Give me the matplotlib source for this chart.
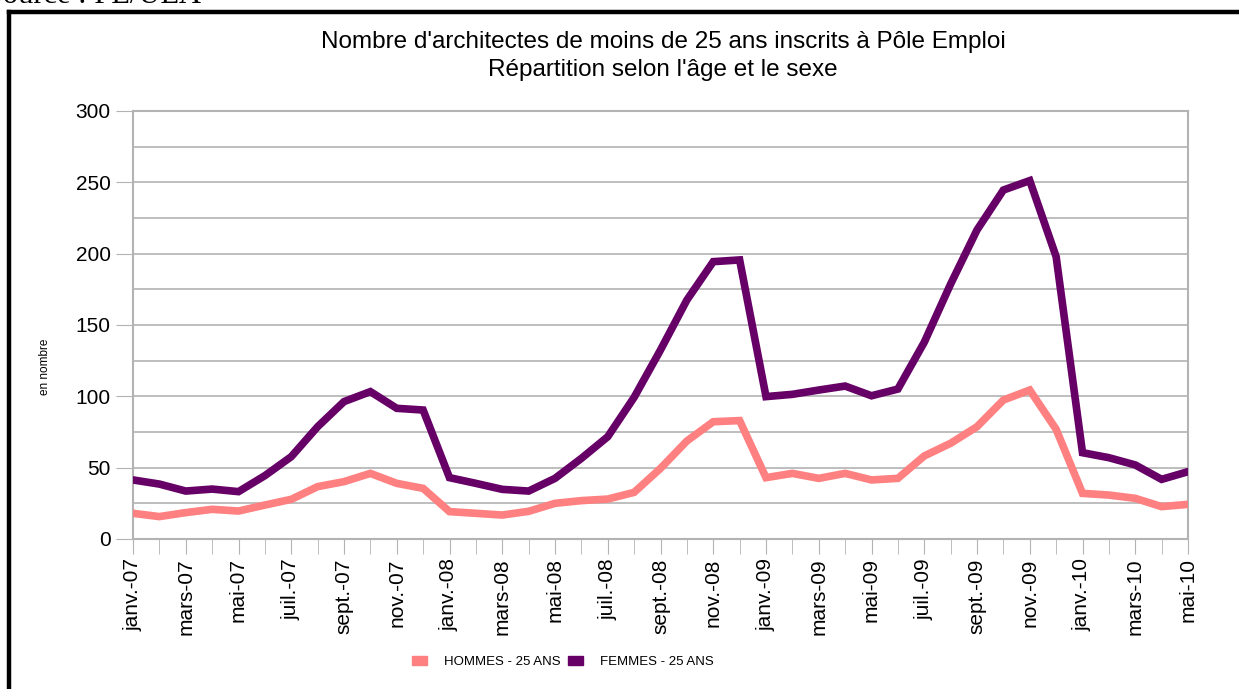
"""Architectes de moins de 25 ans inscrits a Pole Emploi, par sexe."""

import matplotlib
matplotlib.use("Agg")
import matplotlib.pyplot as plt
from matplotlib.patches import Patch
from matplotlib.ticker import MultipleLocator

plt.rcParams["font.family"] = ["Liberation Sans", "DejaVu Sans"]

W, H = 1239, 689

month_names = ["janv.", "févr.", "mars", "avr.", "mai", "juin",
               "juil.", "août", "sept.", "oct.", "nov.", "déc."]
years = ["07", "08", "09", "10"]
months = [f"{m}-{y}" for y in years for m in month_names][:41]

hommes = [18, 15.7, 18.5, 20.8, 19.6, 23.8, 27.8, 36.7, 40.2, 46, 39, 35.5,
          19.2, 18, 16.8, 19.4, 25, 26.9, 28, 32.7, 49.5, 68.7, 82.2, 83,
          43, 46, 42.5, 46, 41.4, 42.5, 58.2, 67.1, 78.7, 97.4, 104.4, 76.9,
          32, 30.8, 28.5, 22.7, 24.3]
femmes = [41.4, 38.5, 33.6, 35, 33.2, 44.4, 57.7, 78.7, 96.3, 103.3, 91.6, 90.4,
          43, 39, 34.8, 33.6, 42.5, 56.5, 71.7, 99.3, 132.5, 167.5, 194.4, 195.6,
          99.8, 101.4, 104.4, 107.2, 100.4, 105.1, 137.9, 178.7, 216.6, 244.6,
          251.2, 197.9, 60.5, 57, 51.9, 41.8, 47.2]

c_hommes = "#ff8080"
c_femmes = "#660066"
grid_c = "#b3b3b3"

fig = plt.figure(figsize=(W / 100, H / 100), dpi=100)

# frame around the chart (top and left edges visible)
fig.add_artist(plt.Line2D([9 / W, 1.0], [1 - 12 / H, 1 - 12 / H],
                          color="black", lw=3.2, transform=fig.transFigure))
fig.add_artist(plt.Line2D([9 / W, 9 / W], [0, 1 - 12 / H],
                          color="black", lw=3.2, transform=fig.transFigure))
# the source line sits above the frame and is cut by the top edge, as in the original
fig.text(-14 / W, 1 - 3 / H, "Source : PE/UEA", family="Liberation Serif",
         fontsize=22, ha="left", va="baseline")

ax = fig.add_axes([133 / W, 1 - 539 / H, (1188 - 133) / W, (539 - 111) / H])
x = list(range(len(months)))
ax.plot(x, hommes, color=c_hommes, lw=5.5, solid_joinstyle="miter", zorder=3)
ax.plot(x, femmes, color=c_femmes, lw=5.5, solid_joinstyle="miter", zorder=4)

ax.set_xlim(0, len(months) - 1)
ax.set_ylim(0, 300)
ax.set_xticks(x[::2])
ax.set_xticklabels(months[::2], rotation=90, fontsize=15)
ax.xaxis.set_minor_locator(MultipleLocator(1))
ax.yaxis.set_major_locator(MultipleLocator(50))
ax.yaxis.set_minor_locator(MultipleLocator(25))
ax.tick_params(axis="y", labelsize=15, length=12, color=grid_c, pad=4)
ax.tick_params(axis="x", which="both", length=11, color=grid_c, pad=3)
ax.tick_params(axis="y", which="minor", length=0)
ax.grid(True, axis="y", which="both", color=grid_c, lw=1.2)
ax.set_axisbelow(True)
for s in ax.spines.values():
    s.set_color(grid_c)
    s.set_linewidth(1.5)

fig.text(45 / W, 1 - 367 / H, "en nombre", rotation=90, fontsize=8.5,
         ha="center", va="center")

fig.text(663 / W, 1 - 42 / H, "Nombre d'architectes de moins de 25 ans inscrits à Pôle Emploi",
         ha="center", va="center", fontsize=17.5)
fig.text(663 / W, 1 - 70 / H, "Répartition selon l'âge et le sexe",
         ha="center", va="center", fontsize=17.5)

handles = [Patch(color=c_hommes, label="HOMMES - 25 ANS"),
           Patch(color=c_femmes, label="FEMMES - 25 ANS")]
fig.legend(handles=handles, loc="center", bbox_to_anchor=(563 / W, 1 - 662 / H),
           ncol=2, frameon=False, fontsize=9.5, handlelength=1.1, handleheight=0.7,
           handletextpad=1.3, columnspacing=0.6)

fig.savefig("out.png", dpi=100)
